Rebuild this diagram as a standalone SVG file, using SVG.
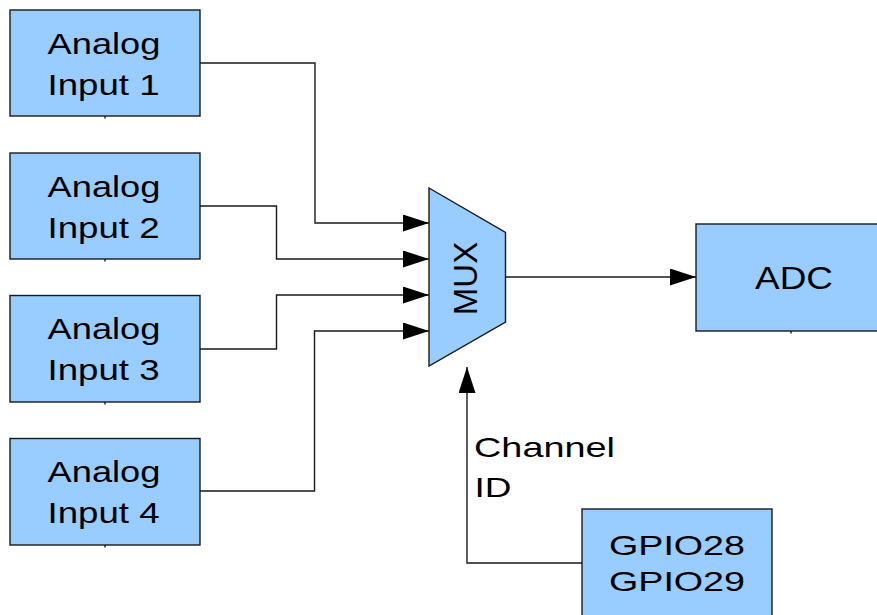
<svg xmlns="http://www.w3.org/2000/svg" width="877" height="615" viewBox="0 0 877 615">
<style>
.box{fill:#99ccff;stroke:#1a1a1a;stroke-width:1.4}
.lbl{font-family:"Liberation Sans",Arial,sans-serif;fill:#000;text-anchor:middle}
.w{font-size:29px}
.edge{fill:none;stroke:#1a1a1a;stroke-width:1.4}
.tick{stroke:#1a1a1a;stroke-width:1.4}
</style>
<defs>
<marker id="ah" markerUnits="userSpaceOnUse" markerWidth="27" markerHeight="18" refX="26" refY="8.5" orient="auto">
<path d="M0,0 L26,8.5 L0,17 z" fill="#000"/>
</marker>
</defs>
<rect width="877" height="615" fill="#fff"/>
<g id="connectors">
<path class="edge" d="M200,63 H315 V223 H429" marker-end="url(#ah)"/>
<path class="edge" d="M200,206 H276.5 V259 H429" marker-end="url(#ah)"/>
<path class="edge" d="M200,349 H276.5 V295 H429" marker-end="url(#ah)"/>
<path class="edge" d="M200,491 H314.5 V331 H429" marker-end="url(#ah)"/>
<path class="edge" d="M506,277 H696" marker-end="url(#ah)"/>
<path class="edge" d="M582,563 H467 V367" marker-end="url(#ah)"/>
</g>
<g id="in1">
<rect class="box" x="10" y="10" width="190" height="106"/>
<line class="tick" x1="105" y1="116" x2="105" y2="118.5"/>
<text class="lbl w" x="104" y="53.5" textLength="113" lengthAdjust="spacingAndGlyphs">Analog</text>
<text class="lbl w" x="103.5" y="94.5" textLength="112" lengthAdjust="spacingAndGlyphs">Input 1</text>
</g>
<g id="in2">
<rect class="box" x="10" y="153" width="190" height="106"/>
<line class="tick" x1="105" y1="259" x2="105" y2="261.5"/>
<text class="lbl w" x="104" y="196.5" textLength="113" lengthAdjust="spacingAndGlyphs">Analog</text>
<text class="lbl w" x="103.5" y="237.5" textLength="112" lengthAdjust="spacingAndGlyphs">Input 2</text>
</g>
<g id="in3">
<rect class="box" x="10" y="295.5" width="190" height="106.5"/>
<line class="tick" x1="105" y1="402" x2="105" y2="404.5"/>
<text class="lbl w" x="104" y="339" textLength="113" lengthAdjust="spacingAndGlyphs">Analog</text>
<text class="lbl w" x="103.5" y="380" textLength="112" lengthAdjust="spacingAndGlyphs">Input 3</text>
</g>
<g id="in4">
<rect class="box" x="10" y="438.5" width="190" height="106.5"/>
<line class="tick" x1="105" y1="545" x2="105" y2="547.5"/>
<text class="lbl w" x="104" y="482" textLength="113" lengthAdjust="spacingAndGlyphs">Analog</text>
<text class="lbl w" x="103.5" y="523" textLength="112" lengthAdjust="spacingAndGlyphs">Input 4</text>
</g>
<g id="mux">
<path class="box" d="M429,188 L505.5,232.5 L505.5,322 L429,366 z"/>
<text class="lbl" font-size="33" transform="translate(476.5,278.5) rotate(-90)">MUX</text>
</g>
<g id="adc">
<rect class="box" x="696" y="224" width="196" height="107"/>
<line class="tick" x1="791" y1="331" x2="791" y2="333.5"/>
<text class="lbl" font-size="31" x="794" y="288.5" textLength="78" lengthAdjust="spacingAndGlyphs">ADC</text>
</g>
<g id="gpio">
<rect class="box" x="582" y="509" width="190" height="120"/>
<text class="lbl" font-size="27.5" x="677" y="554.5" textLength="136" lengthAdjust="spacingAndGlyphs">GPIO28</text>
<text class="lbl" font-size="27.5" x="677" y="591" textLength="136" lengthAdjust="spacingAndGlyphs">GPIO29</text>
</g>
<g id="chlabel">
<text class="lbl" font-size="28" x="474" y="456.5" text-anchor="start" style="text-anchor:start" textLength="141" lengthAdjust="spacingAndGlyphs">Channel</text>
<text class="lbl" font-size="28" x="474.5" y="496.5" style="text-anchor:start" textLength="37" lengthAdjust="spacingAndGlyphs">ID</text>
</g>
</svg>
